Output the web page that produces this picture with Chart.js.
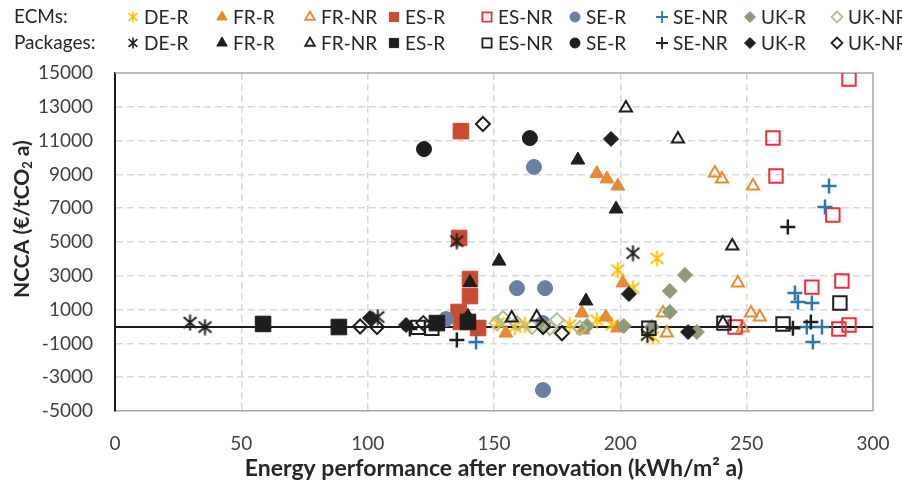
<!DOCTYPE html>
<html>
<head>
<meta charset="utf-8">
<script src="https://cdn.jsdelivr.net/npm/chart.js@4.4.0/dist/chart.umd.min.js"></script>
<style>
  html, body { margin: 0; padding: 0; background: #ffffff; }
  #wrap { width: 902px; height: 488px; position: relative; }
</style>
</head>
<body>
<div id="wrap"><canvas id="chart" width="902" height="488"></canvas></div>
<script>
// ---- axis ticks ----
const xTicks = [0, 50, 100, 150, 200, 250, 300];
const yTicks = [-5000, -3000, -1000, 1000, 3000, 5000, 7000, 9000, 11000, 13000, 15000];

// ---- series names and legend groups ----
const seriesNames = ['DE-R', 'FR-R', 'FR-NR', 'ES-R', 'ES-NR', 'SE-R', 'SE-NR', 'UK-R', 'UK-NR'];
const groupNames = ['ECMs:', 'Packages:'];

// ---- axis titles ----
const xTitle = 'Energy performance after renovation (kWh/m² a)';
const yTitleMain = 'NCCA (€/tCO';
const yTitleSub = '2';
const yTitleEnd = ' a)';

// ---- single measures (ECMs): [kWh/m² a, €/tCO2 a] ----
const ecmDE_R = [[199, 3340], [214.5, 4030], [205, 2270], [151.6, 200], [158.3, -30], [162.2, 90], [180, 90], [190.7, 380], [196.7, 90], [212.9, -620]];
const ecmFR_R = [[190.7, 9050], [194.7, 8730], [199, 8310], [201, 2580], [184.8, 800], [194.3, 560], [154.7, -390], [199, -90], [185.2, -200]];
const ecmFR_NR = [[237.4, 9080], [240.2, 8730], [252.5, 8310], [246.5, 2580], [251.7, 800], [255.2, 560], [216.9, 800], [218.4, -390], [248.5, -90]];
const ecmES_R = [[136.9, 11560], [136.2, 5240], [140.5, 2810], [140.5, 1800], [136, 860], [136.9, 270], [143.7, -90]];
const ecmES_NR = [[290.5, 14640], [260.4, 11150], [261.6, 8900], [284.1, 6600], [275.8, 2330], [287.7, 2690], [245.4, -30], [286.5, -150], [290.5, 90]];
const ecmSE_R = [[165.8, 9440], [159.1, 2270], [170.2, 2270], [169.4, -3760], [131, 440], [169.4, 200]];
const ecmSE_NR = [[282.6, 8310], [281, 7070], [269.1, 1980], [270.3, 1450], [275.8, 1390], [273.8, -30], [279.8, -30], [276.2, -920], [142.9, -920]];
const ecmUK_R = [[225.6, 3050], [219.6, 2100], [219.6, 860], [201.4, 30], [186.8, 30], [212.5, -30], [230.3, -330], [169.6, 0]];
const ecmUK_NR = [[153.5, 500], [159.1, 200], [165, -30], [172.1, -90], [174.9, 380], [184, -90], [151, 200]];

// ---- combined packages ----
const pkgDE_R = [[29.7, 230], [35.6, -30], [104, 560], [135.3, 5050], [205, 4340], [210.7, -500]];
const pkgFR_R = [[183.2, 9850], [198.3, 6950], [152, 3870], [186.4, 1510], [140.5, 2600], [139.7, 600]];
const pkgFR_NR = [[202.2, 12930], [222.8, 11100], [244.3, 4760], [157, 500], [166.9, 560], [240.6, 200]];
const pkgES_R = [[58.6, 150], [88.6, -30], [127.4, 200], [139.7, 270]];
const pkgES_NR = [[119.9, -50], [125.4, -100], [211.3, -100], [241, 200], [264.4, 150], [286.9, 1390]];
const pkgSE_R = [[122.3, 10500], [164.2, 11150]];
const pkgSE_NR = [[135.3, -800], [266.3, 5890], [275.4, 270], [268.3, -100], [116.7, -150]];
const pkgUK_R = [[196.3, 11100], [203.4, 1920], [226.8, -330], [100.9, 500], [115.2, 90]];
const pkgUK_NR = [[145.6, 11980], [97, 0], [103.7, -30], [122, 200], [169.4, -30], [176.9, -400]];

const ecmSeries = [ecmDE_R, ecmFR_R, ecmFR_NR, ecmES_R, ecmES_NR, ecmSE_R, ecmSE_NR, ecmUK_R, ecmUK_NR];
const pkgSeries = [pkgDE_R, pkgFR_R, pkgFR_NR, pkgES_R, pkgES_NR, pkgSE_R, pkgSE_NR, pkgUK_R, pkgUK_NR];

// marker colours for the single measures; packages are all drawn in near-black
const ecmColors = ['#FFC000', '#E58A35', '#E58A35', '#C84B32', '#EC2F3B', '#6A7FA1', '#2A77B4', '#8C9A78', '#B2BE96'];
const pkgColor = '#1E1E1E';

const FONT = 'Lato, "Open Sans", "DejaVu Sans", sans-serif';

// six-armed asterisk marker rendered to a small canvas
function makeAsterisk(color, size, lw) {
  const c = document.createElement('canvas');
  c.width = size; c.height = size;
  const g = c.getContext('2d');
  g.strokeStyle = color; g.lineWidth = lw;
  const m = size / 2, r = size / 2 - 0.5;
  g.beginPath();
  g.moveTo(m, m - r); g.lineTo(m, m + r);
  const dx = r * 0.8, dy = r * 0.7;
  g.moveTo(m - dx, m - dy); g.lineTo(m + dx, m + dy);
  g.moveTo(m + dx, m - dy); g.lineTo(m - dx, m + dy);
  g.stroke();
  return c;
}

// marker shape per series position: [style, filled, radius, borderWidth, legendRadius]
const shapes = [
  ['asterisk', false, 8, 2, 5.5],
  ['triangle', true, 8, 1, 6],
  ['triangle', false, 7, 2, 5.5],
  ['rect', true, 11, 1, 6.5],
  ['rect', false, 9.5, 2, 6.5],
  ['circle', true, 7.5, 1, 5],
  ['cross', false, 7.5, 2.5, 6],
  ['rectRot', true, 7.5, 1, 5.5],
  ['rectRot', false, 7, 2, 5.5]
];

function buildDataset(label, points, color, shapeIdx, group, orderVal) {
  const [style, filled, radius, bw, lr] = shapes[shapeIdx];
  const ds = {
    label: label,
    data: points.map(p => ({ x: p[0], y: p[1] })),
    group: group,
    order: orderVal,
    pointRadius: radius,
    pointHoverRadius: radius,
    borderWidth: bw,
    pointBorderWidth: bw,
    borderColor: color,
    backgroundColor: filled ? color : 'rgba(0,0,0,0)',
    pointBorderColor: color,
    pointBackgroundColor: filled ? color : 'rgba(0,0,0,0)',
    legendRadius: lr,
    legendStyle: style,
    legendBorderWidth: bw,
    showLine: false
  };
  if (style === 'asterisk') {
    ds.pointStyle = makeAsterisk(color, 17, 2);
    ds.legendImage = makeAsterisk(color, 12, 1.6);
  } else {
    ds.pointStyle = style;
  }
  return ds;
}

const datasets = [];
let ord = 100;
ecmSeries.forEach((pts, i) => datasets.push(buildDataset(seriesNames[i], pts, ecmColors[i], i, 0, ord--)));
pkgSeries.forEach((pts, i) => datasets.push(buildDataset(seriesNames[i], pts, pkgColor, i, 1, ord--)));

// plot frame (top/right) and the horizontal axis line through zero
const framePlugin = {
  id: 'frame',
  beforeDatasetsDraw(chart) {
    const { ctx, chartArea: a, scales } = chart;
    ctx.save();
    ctx.strokeStyle = '#A6A6A6';
    ctx.lineWidth = 1.5;
    ctx.beginPath();
    ctx.moveTo(a.left, a.top); ctx.lineTo(a.right, a.top); ctx.lineTo(a.right, a.bottom);
    ctx.stroke();
    const y0 = Math.round(scales.y.getPixelForValue(0));
    ctx.strokeStyle = '#1A1A1A';
    ctx.lineWidth = 2;
    ctx.beginPath();
    ctx.moveTo(a.left, y0); ctx.lineTo(a.right, y0);
    ctx.stroke();
    ctx.restore();
  }
};

// two-row legend with group captions, plus the rotated y title with subscript
const legendPlugin = {
  id: 'groupLegend',
  afterDraw(chart) {
    const ctx = chart.ctx;
    const rows = [17, 43];
    const colX = [133, 222, 310, 394, 487, 575, 662, 750, 837];
    ctx.save();
    ctx.font = '19px ' + FONT;
    ctx.textBaseline = 'middle';
    ctx.textAlign = 'left';
    ctx.fillStyle = '#262626';
    groupNames.forEach((g, r) => ctx.fillText(g, 14, rows[r]));
    chart.data.datasets.forEach((ds, i) => {
      const r = ds.group;
      const col = i % 9;
      const x = colX[col], y = rows[r];
      ctx.save();
      if (ds.legendImage) {
        const im = ds.legendImage;
        ctx.drawImage(im, x - im.width / 2, y - im.height / 2);
      } else {
        ctx.fillStyle = ds.pointBackgroundColor;
        ctx.strokeStyle = ds.pointBorderColor;
        ctx.lineWidth = Math.min(ds.legendBorderWidth, 1.8);
        Chart.helpers.drawPoint(ctx, { pointStyle: ds.legendStyle, rotation: 0, radius: ds.legendRadius, borderWidth: ctx.lineWidth }, x, y);
      }
      ctx.restore();
      ctx.fillStyle = '#262626';
      ctx.fillText(ds.label, x + 11, y + 1);
    });

    // y axis title
    ctx.translate(22, 219);
    ctx.rotate(-Math.PI / 2);
    const big = 'bold 21px ' + FONT, small = 'bold 13px ' + FONT;
    ctx.font = big;
    const w1 = ctx.measureText(yTitleMain).width, w3 = ctx.measureText(yTitleEnd).width;
    ctx.font = small;
    const w2 = ctx.measureText(yTitleSub).width;
    let tx = -(w1 + w2 + w3) / 2;
    ctx.fillStyle = '#262626';
    ctx.font = big; ctx.fillText(yTitleMain, tx, 0); tx += w1;
    ctx.font = small; ctx.fillText(yTitleSub, tx, 6); tx += w2;
    ctx.font = big; ctx.fillText(yTitleEnd, tx, 0);
    ctx.restore();
  }
};

new Chart(document.getElementById('chart'), {
  type: 'scatter',
  data: { datasets: datasets },
  options: {
    responsive: false,
    devicePixelRatio: 1,
    animation: false,
    events: [],
    layout: { padding: { top: 73, right: 29, left: 0, bottom: 0 } },
    plugins: { legend: { display: false }, tooltip: { enabled: false } },
    scales: {
      x: {
        type: 'linear', min: 0, max: 300,
        afterBuildTicks: s => { s.ticks = xTicks.map(v => ({ value: v })); },
        afterFit: s => { s.height = 77; s.paddingLeft = 0; s.paddingRight = 0; },
        ticks: { padding: 21, color: '#404040', font: { family: FONT, size: 19 }, callback: v => String(v) },
        grid: {
          drawTicks: false, lineWidth: 1.5,
          color: c => (c.tick && (c.tick.value === 0 || c.tick.value === 300)) ? 'rgba(0,0,0,0)' : '#D9D9D9'
        },
        border: { display: true, color: '#A6A6A6', width: 1.5, dash: [7, 4] },
        title: { display: true, text: xTitle, color: '#262626', font: { family: FONT, size: 23, weight: 'bold' }, padding: { top: 0, bottom: 6 } }
      },
      y: {
        type: 'linear', min: -5000, max: 15000,
        afterBuildTicks: s => { s.ticks = yTicks.map(v => ({ value: v })); },
        afterFit: s => { s.width = 115; s.paddingTop = 0; s.paddingBottom = 0; },
        ticks: { padding: 22, color: '#404040', font: { family: FONT, size: 19 }, callback: v => String(v) },
        grid: {
          drawTicks: false, lineWidth: 1.5,
          color: c => (c.tick && (c.tick.value === -5000 || c.tick.value === 15000)) ? 'rgba(0,0,0,0)' : '#D9D9D9'
        },
        border: { display: true, color: '#1A1A1A', width: 2, dash: [7, 4] }
      }
    }
  },
  plugins: [framePlugin, legendPlugin]
});
</script>
</body>
</html>
